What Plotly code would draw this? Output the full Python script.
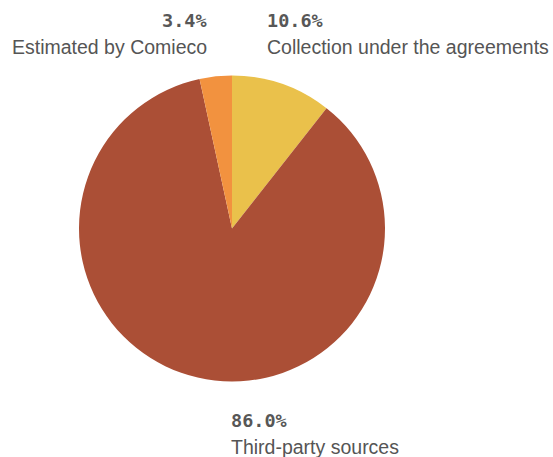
import plotly.graph_objects as go

labels = ["Collection under the agreements", "Third-party sources", "Estimated by Comieco"]
values = [10.6, 86.0, 3.4]
colors = ["#EAC14B", "#AB4F36", "#F2923F"]

W, H = 553, 457

fig = go.Figure(go.Pie(
    labels=labels,
    values=values,
    sort=False,
    direction="clockwise",
    rotation=0,
    marker=dict(colors=colors, line=dict(width=0)),
    textinfo="none",
    hoverinfo="label+percent",
    domain=dict(x=[79 / W, 385 / W], y=[1 - 382 / H, 1 - 75 / H]),
    showlegend=False,
))

pct_font = dict(family="DejaVu Sans Mono", size=18.5, color="#575757", weight="bold")
lab_font = dict(family="Liberation Sans", size=19.5, color="#555555")

# label blocks: (x px, anchor, y of value px, y of name px)
placements = [
    (265, "left", 20, 47),
    (229, "left", 420, 447),
    (209, "right", 20, 47),
]
annots = []
for lab, val, (x, anc, yv, yl) in zip(labels, values, placements):
    annots.append(dict(x=x / W, y=1 - yv / H, xref="paper", yref="paper",
                       xanchor=anc, yanchor="middle", showarrow=False,
                       text=f"{val:.1f}%", font=pct_font))
    annots.append(dict(x=x / W, y=1 - yl / H, xref="paper", yref="paper",
                       xanchor=anc, yanchor="middle", showarrow=False,
                       text=lab, font=lab_font))

fig.update_layout(
    width=W, height=H,
    margin=dict(l=0, r=0, t=0, b=0),
    paper_bgcolor="white",
    plot_bgcolor="white",
    annotations=annots,
)

fig.write_html("out.html")
